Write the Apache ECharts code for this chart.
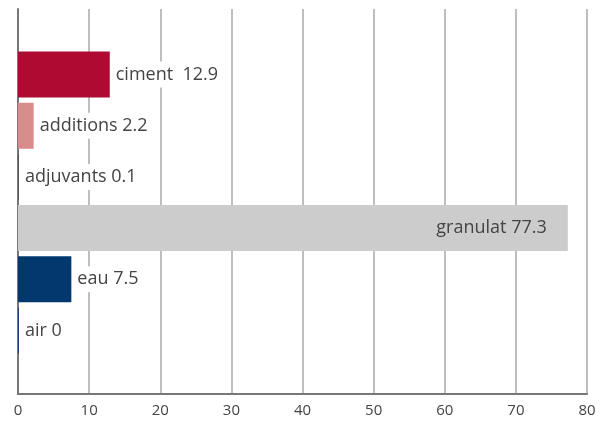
<!DOCTYPE html>
<html>
<head>
<meta charset="utf-8">
<script src="https://cdn.jsdelivr.net/npm/echarts@6/dist/echarts.min.js"></script>
<style>html,body{margin:0;padding:0;background:#fff}#c{width:600px;height:423px}</style>
</head>
<body>
<div id="c"></div>
<script>
const categories = ['ciment', 'additions', 'adjuvants', 'granulat', 'eau', 'air'];
const values = [12.9, 2.2, 0.1, 77.3, 7.5, 0];
const labelTexts = ['ciment  12.9', 'additions 2.2', 'adjuvants 0.1', 'granulat 77.3', 'eau 7.5', 'air 0'];
const colors = ['#AF0A32', '#DA8C8C', '#555555', '#CCCCCC', '#02386E', '#1F3F7A'];
const xTicks = [0, 10, 20, 30, 40, 50, 60, 70, 80];

const chart = echarts.init(document.getElementById('c'), null, {renderer: 'canvas'});
const font = '"Open Sans", "Noto Sans", sans-serif';
chart.setOption({
  animation: false,
  grid: [
    {left: 18, right: 13, top: 9, bottom: 29},
    {left: 18, right: 13, top: 49, bottom: 67}
  ],
  xAxis: [
    {
      gridIndex: 0, type: 'value', min: xTicks[0], max: xTicks[xTicks.length - 1], interval: 10,
      axisLine: {show: true, lineStyle: {color: '#777', width: 2}},
      axisTick: {show: false},
      splitLine: {show: true, lineStyle: {color: '#A8A8A8', width: 1.5}},
      axisLabel: {color: '#444', fontSize: 15, fontFamily: font, margin: 9}
    },
    {
      gridIndex: 1, type: 'value', min: xTicks[0], max: xTicks[xTicks.length - 1],
      show: false
    }
  ],
  yAxis: [
    {
      gridIndex: 0, type: 'category', data: [''],
      axisLine: {show: true, lineStyle: {color: '#777', width: 2}},
      axisTick: {show: false}, axisLabel: {show: false}, splitLine: {show: false}
    },
    {
      gridIndex: 1, type: 'category', data: categories, inverse: true, show: false
    }
  ],
  series: [{
    type: 'bar',
    xAxisIndex: 1, yAxisIndex: 1,
    barCategoryGap: '10%',
    barMinHeight: 1,
    data: values.map((v, i) => ({
      value: v,
      itemStyle: {color: colors[i]},
      label: {
        show: true,
        position: i === 3 ? 'insideRight' : 'right',
        formatter: labelTexts[i],
        distance: i === 3 ? 18 : 3,
        color: '#444',
        fontSize: 18,
        fontFamily: font,
        backgroundColor: i === 3 ? 'transparent' : '#fff',
        padding: [4, 3, 4, 3]
      }
    }))
  }]
});
</script>
</body>
</html>
